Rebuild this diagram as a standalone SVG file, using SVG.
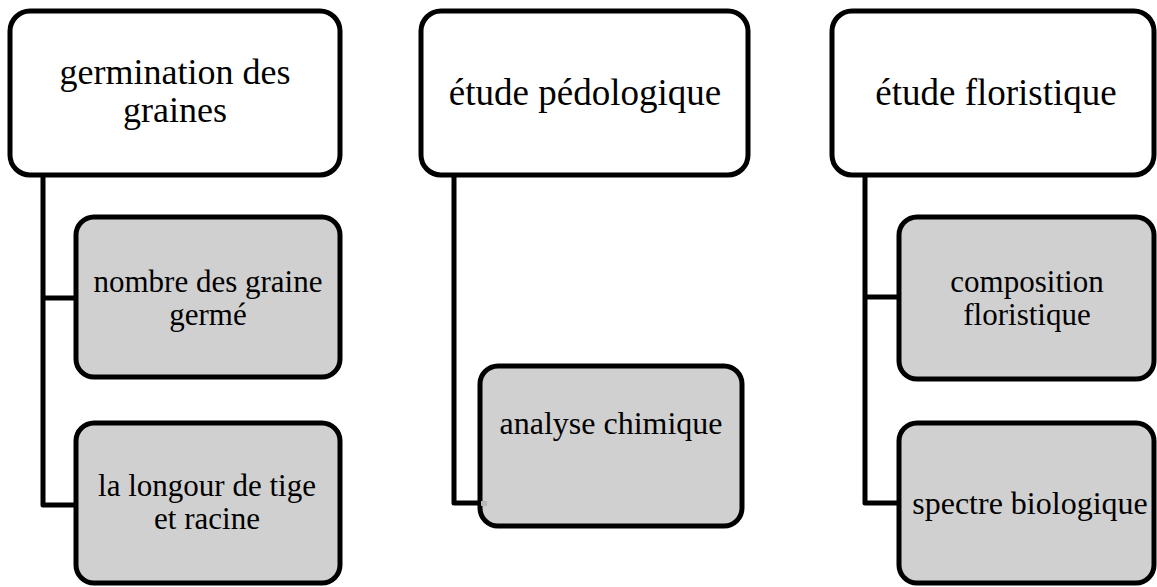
<svg xmlns="http://www.w3.org/2000/svg" width="1157" height="587" viewBox="0 0 1157 587">
<style>
.top{fill:#fff;stroke:#000;stroke-width:5}
.sub{fill:#d0d0d0;stroke:#000;stroke-width:5}
.t1{font-family:"Liberation Serif","Times New Roman",serif;font-size:36px;fill:#000;text-anchor:middle}
.t1b{font-family:"Liberation Serif","Times New Roman",serif;font-size:37px;fill:#000;text-anchor:middle}
.t2{font-family:"Liberation Serif","Times New Roman",serif;font-size:31px;fill:#000;text-anchor:middle}
.t2b{font-family:"Liberation Serif","Times New Roman",serif;font-size:32px;fill:#000;text-anchor:middle}
.c{fill:none;stroke:#000;stroke-width:5;stroke-linejoin:round}
</style>
<rect width="1157" height="587" fill="#fff"/>
<g id="connectors">
<path class="c" d="M43 176 V505 H76 M43 298 H76"/>
<path class="c" d="M454 176 V503 H480"/>
<path class="c" d="M865 176 V503 H899 M865 297 H899"/>
</g>
<g id="n1"><rect class="top" x="10" y="11" width="330" height="164" rx="20"/><text class="t1" x="175" y="84">germination des</text><text class="t1" x="175" y="122">graines</text></g>
<g id="n2"><rect class="sub" x="76" y="217" width="264" height="160" rx="18"/><text class="t2" x="208" y="292">nombre des graine</text><text class="t2" x="208" y="325">germé</text></g>
<g id="n3"><rect class="sub" x="76" y="423" width="264" height="160" rx="18"/><text class="t2" x="207" y="496">la longour de tige</text><text class="t2" x="207" y="529">et racine</text></g>
<g id="n4"><rect class="top" x="421" y="11" width="327" height="164" rx="20"/><text class="t1b" x="585" y="105">étude pédologique</text></g>
<g id="n5"><rect class="sub" x="480" y="366" width="262" height="160" rx="18"/><rect x="481" y="501" width="6" height="5" fill="#b8b8b8"/><text class="t2b" x="611" y="434">analyse chimique</text></g>
<g id="n6"><rect class="top" x="832" y="11" width="322" height="164" rx="20"/><text class="t1b" x="996" y="105">étude floristique</text></g>
<g id="n7"><rect class="sub" x="899" y="217" width="255" height="162" rx="18"/><text class="t2" x="1027" y="292">composition</text><text class="t2" x="1027" y="325">floristique</text></g>
<g id="n8"><rect class="sub" x="899" y="423" width="255" height="160" rx="18"/><text class="t2b" x="1030" y="514">spectre biologique</text></g>
</svg>
